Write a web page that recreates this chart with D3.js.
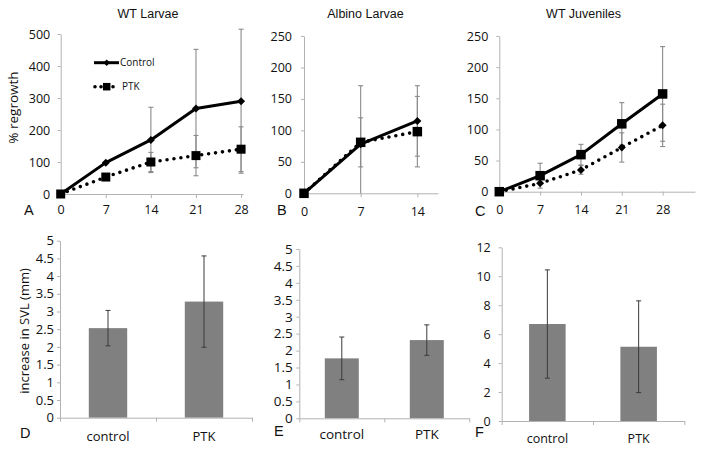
<!DOCTYPE html>
<html><head><meta charset="utf-8">
<script src="https://cdn.jsdelivr.net/npm/d3@7"></script>
<style>body{margin:0;background:#fff} svg{display:block}</style>
</head><body>
<svg id="chart" width="704" height="452"></svg>
<script>
// ---------- data ----------
const days = [0, 7, 14, 21, 28];
const daysAlbino = [0, 7, 14];
const yTicksWT = [0, 100, 200, 300, 400, 500];
const yTicksAlbino = [0, 50, 100, 150, 200, 250];
const yTicksJuv = [0, 50, 100, 150, 200, 250];
const yTicksSVL = [0, 0.5, 1, 1.5, 2, 2.5, 3, 3.5, 4, 4.5, 5];
const yTicksSVLJuv = [0, 2, 4, 6, 8, 10, 12];

const wtLarvaeControl = [0, 98, 169, 267, 290];
const wtLarvaeControlErr = [0, 0, 102, 185, 225];
const wtLarvaePTK = [0, 53, 100, 120, 140];
const wtLarvaePTKErr = [0, 0, 30, 63, 70];

const albinoControl = [0, 78, 115];
const albinoControlErr = [0, 93, 56];
const albinoPTK = [0, 81, 98];
const albinoPTKErr = [0, 39, 56];

const juvSolid = [0, 25.7, 59.5, 109, 157];
const juvSolidErr = [0, 20, 16.5, 34, 76];
const juvDotted = [0, 13.4, 35, 71, 106.5];
const juvDottedErr = [0, 0, 7, 23.5, 34];

const svlCategories = ["control", "PTK"];
const wtLarvaeSVL = [2.53, 3.28];
const wtLarvaeSVLErr = [0.5, 1.29];
const albinoSVL = [1.77, 2.31];
const albinoSVLErr = [0.63, 0.45];
const juvSVL = [6.7, 5.13];
const juvSVLErr = [3.74, 3.17];

// ---------- drawing ----------
const svg = d3.select("#chart");
svg.append("rect").attr("width", 704).attr("height", 452).attr("fill", "#fff");

const AXIS = "#b3b3b3";
const TXT = "#111";
const TICKFONT = "'Open Sans', sans-serif";
const TITLEFONT = "'Liberation Sans', Arial, sans-serif";
const fmt = d => String(d);

function styleAxis(g, fs) {
  g.attr("font-family", TICKFONT).attr("font-size", fs);
  g.select(".domain").attr("stroke", AXIS);
  g.selectAll(".tick line").attr("stroke", AXIS);
  g.selectAll(".tick text").attr("fill", TXT);
}

function marker(g, type, cx, cy, s) {
  if (type === "square") {
    g.append("rect").attr("x", cx - s / 2).attr("y", cy - s / 2)
      .attr("width", s).attr("height", s).attr("fill", "#000");
  } else {
    const r = s / 2;
    g.append("path").attr("d", `M${cx},${cy - r}L${cx + r},${cy}L${cx},${cy + r}L${cx - r},${cy}Z`)
      .attr("fill", "#000");
  }
}

function linePanel(cfg) {
  const x = d3.scaleLinear().domain([0, cfg.xMax]).range([cfg.x0, cfg.x1]);
  const y = d3.scaleLinear().domain([0, cfg.yMax]).range([cfg.y0, cfg.y1]);
  const gy = svg.append("g").attr("transform", `translate(${cfg.x0},0)`)
    .call(d3.axisLeft(y).tickValues(cfg.yTicks).tickFormat(fmt).tickSize(3).tickSizeOuter(0).tickPadding(cfg.yPad));
  styleAxis(gy, cfg.fs);
  const gx = svg.append("g").attr("transform", `translate(0,${cfg.y0})`)
    .call(d3.axisBottom(x).tickValues(cfg.xTicks).tickFormat(fmt).tickSize(4).tickSizeOuter(0).tickPadding(cfg.xPad));
  styleAxis(gx, cfg.fs);

  const g = svg.append("g");
  // error bars
  cfg.series.forEach(s => {
    s.x.forEach((d, i) => {
      const e = s.err[i];
      if (!e) return;
      const lo = Math.max(0, s.y[i] - e), hi = s.y[i] + e;
      const px = x(d);
      g.append("line").attr("x1", px).attr("x2", px).attr("y1", y(lo)).attr("y2", y(hi))
        .attr("stroke", "#8a8a8a").attr("stroke-width", 1.1);
      g.append("line").attr("x1", px - 2.5).attr("x2", px + 2.5).attr("y1", y(hi)).attr("y2", y(hi))
        .attr("stroke", "#8a8a8a").attr("stroke-width", 1.1);
      if (s.y[i] - e > 0)
        g.append("line").attr("x1", px - 2.5).attr("x2", px + 2.5).attr("y1", y(lo)).attr("y2", y(lo))
          .attr("stroke", "#8a8a8a").attr("stroke-width", 1.1);
    });
  });
  // lines
  cfg.series.forEach(s => {
    const line = d3.line().x((d, i) => x(s.x[i])).y(d => y(d));
    const p = g.append("path").attr("d", line(s.y)).attr("fill", "none").attr("stroke", "#000");
    if (s.dotted) p.attr("stroke-width", 3.6).attr("stroke-dasharray", "0,7").attr("stroke-linecap", "round");
    else p.attr("stroke-width", 3).attr("stroke-linejoin", "round");
  });
  // markers
  cfg.series.forEach(s => {
    s.x.forEach((d, i) => marker(g, s.marker, x(d), y(s.y[i]), s.marker === "square" ? cfg.sq : cfg.dm));
  });

  svg.append("text").attr("x", cfg.titleX).attr("y", 18).attr("text-anchor", "middle")
    .attr("font-family", TITLEFONT).attr("font-size", 12.5).attr("fill", TXT).text(cfg.title);
  svg.append("text").attr("x", cfg.letterX).attr("y", cfg.letterY)
    .attr("font-family", TITLEFONT).attr("font-size", 14.5).attr("fill", TXT).text(cfg.letter);
}

function barPanel(cfg) {
  const xb = d3.scaleBand().domain(svlCategories).range([cfg.x0, cfg.x1]).paddingInner(0.6).paddingOuter(0.3);
  const xl = d3.scaleLinear().domain([0, svlCategories.length]).range([cfg.x0, cfg.x1]);
  const y = d3.scaleLinear().domain([0, cfg.yMax]).range([cfg.y0, cfg.y1]);

  const gy = svg.append("g").attr("transform", `translate(${cfg.x0},0)`)
    .call(d3.axisLeft(y).tickValues(cfg.yTicks).tickFormat(fmt).tickSize(3).tickSizeOuter(0).tickPadding(cfg.yPad));
  styleAxis(gy, cfg.fs);

  const g = svg.append("g");
  g.selectAll("rect.bar").data(cfg.values).enter().append("rect").attr("class", "bar")
    .attr("x", (d, i) => xb(svlCategories[i])).attr("width", xb.bandwidth())
    .attr("y", d => y(d)).attr("height", d => y(0) - y(d)).attr("fill", "#808080");

  const gx = svg.append("g").attr("transform", `translate(0,${cfg.y0})`)
    .call(d3.axisBottom(xl).tickValues(d3.range(svlCategories.length + 1)).tickFormat("").tickSize(4).tickSizeOuter(0));
  styleAxis(gx, cfg.fs);
  const gc = svg.append("g").attr("transform", `translate(0,${cfg.y0})`)
    .call(d3.axisBottom(xb).tickSize(0).tickPadding(cfg.xPad));
  gc.select(".domain").remove();
  styleAxis(gc, cfg.fs);

  cfg.values.forEach((v, i) => {
    const cx = xb(svlCategories[i]) + xb.bandwidth() / 2;
    const lo = v - cfg.errs[i], hi = v + cfg.errs[i];
    const col = "#3a3a3a";
    g.append("line").attr("x1", cx).attr("x2", cx).attr("y1", y(lo)).attr("y2", y(hi)).attr("stroke", col).attr("stroke-width", 1);
    [lo, hi].forEach(t => g.append("line").attr("x1", cx - 2.5).attr("x2", cx + 2.5)
      .attr("y1", y(t)).attr("y2", y(t)).attr("stroke", col).attr("stroke-width", 1));
  });

  svg.append("text").attr("x", cfg.letterX).attr("y", cfg.letterY)
    .attr("font-family", TITLEFONT).attr("font-size", 14.5).attr("fill", TXT).text(cfg.letter);
}

// Panel A
linePanel({
  title: "WT Larvae", titleX: 148, letter: "A", letterX: 24, letterY: 215,
  x0: 60.7, x1: 243, xMax: 28.3, y0: 194, y1: 34, yMax: 500,
  yTicks: yTicksWT, xTicks: days, yPad: 7.5, xPad: 7, fs: 12.5, sq: 9, dm: 8,
  series: [
    { x: days, y: wtLarvaeControl, err: wtLarvaeControlErr, dotted: false, marker: "diamond" },
    { x: days, y: wtLarvaePTK, err: wtLarvaePTKErr, dotted: true, marker: "square" }
  ]
});
// Panel A legend
{
  const lg = svg.append("g");
  lg.append("line").attr("x1", 94).attr("x2", 119).attr("y1", 62.7).attr("y2", 62.7)
    .attr("stroke", "#000").attr("stroke-width", 3);
  marker(lg, "diamond", 106.7, 62.7, 6.5);
  lg.append("text").attr("x", 120).attr("y", 62.7).attr("dy", "0.35em")
    .attr("font-family", TICKFONT).attr("font-size", 10).attr("fill", TXT).text("Control");
  lg.append("line").attr("x1", 95).attr("x2", 119).attr("y1", 86.7).attr("y2", 86.7)
    .attr("stroke", "#000").attr("stroke-width", 3.6).attr("stroke-dasharray", "0,6").attr("stroke-linecap", "round");
  marker(lg, "square", 106.7, 86.7, 7.5);
  lg.append("text").attr("x", 122).attr("y", 86.7).attr("dy", "0.35em")
    .attr("font-family", TICKFONT).attr("font-size", 10).attr("fill", TXT).text("PTK");
}
// y label A
svg.append("text").attr("transform", "translate(18,107.5) rotate(-90)").attr("text-anchor", "middle")
  .attr("font-family", TICKFONT).attr("font-size", 13.5).attr("fill", TXT).text("% regrowth");

// Panel B
linePanel({
  title: "Albino Larvae", titleX: 365.5, letter: "B", letterX: 277, letterY: 215,
  x0: 304, x1: 438, xMax: 16.55, y0: 193.3, y1: 36, yMax: 250,
  yTicks: yTicksAlbino, xTicks: daysAlbino, yPad: 9, xPad: 9.5, fs: 12.5, sq: 9.5, dm: 8,
  series: [
    { x: daysAlbino, y: albinoControl, err: albinoControlErr, dotted: false, marker: "diamond" },
    { x: daysAlbino, y: albinoPTK, err: albinoPTKErr, dotted: true, marker: "square" }
  ]
});

// Panel C
linePanel({
  title: "WT Juveniles", titleX: 583.5, letter: "C", letterX: 475, letterY: 216,
  x0: 499.3, x1: 695, xMax: 33.55, y0: 191.7, y1: 36, yMax: 250,
  yTicks: yTicksJuv, xTicks: days, yPad: 8, xPad: 9.5, fs: 12.5, sq: 9.5, dm: 8,
  series: [
    { x: days, y: juvDotted, err: juvDottedErr, dotted: true, marker: "diamond" },
    { x: days, y: juvSolid, err: juvSolidErr, dotted: false, marker: "square" }
  ]
});

// Panel D
barPanel({
  letter: "D", letterX: 20, letterY: 438,
  x0: 60, x1: 252, y0: 417.7, y1: 240.7, yMax: 5, yTicks: yTicksSVL,
  values: wtLarvaeSVL, errs: wtLarvaeSVLErr, yPad: 3, xPad: 14, fs: 13
});
svg.append("text").attr("transform", "translate(29,331) rotate(-90)").attr("text-anchor", "middle")
  .attr("font-family", TICKFONT).attr("font-size", 13).attr("fill", TXT).text("increase in SVL (mm)");

// Panel E
barPanel({
  letter: "E", letterX: 274, letterY: 436,
  x0: 299.3, x1: 469.3, y0: 418.3, y1: 249, yMax: 5, yTicks: yTicksSVL,
  values: albinoSVL, errs: albinoSVLErr, yPad: 3.5, xPad: 11, fs: 13.5
});

// Panel F
barPanel({
  letter: "F", letterX: 475, letterY: 437,
  x0: 501.7, x1: 684.3, y0: 421, y1: 247.3, yMax: 12, yTicks: yTicksSVLJuv,
  values: juvSVL, errs: juvSVLErr, yPad: 8, xPad: 13.5, fs: 12.5
});
</script>
</body></html>
